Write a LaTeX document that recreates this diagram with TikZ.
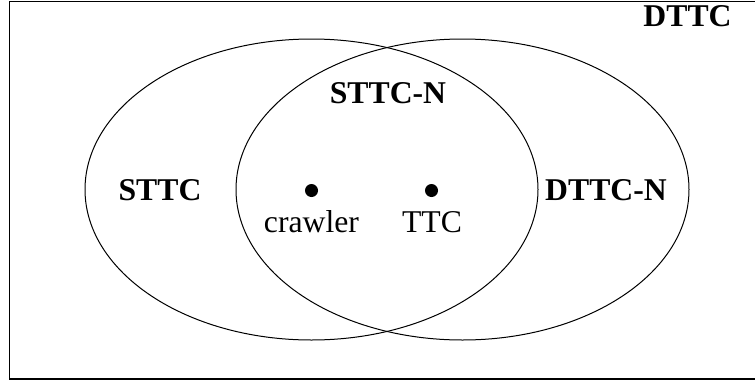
\documentclass[tikz,border=0pt]{standalone}
\usepackage{fontspec}
\setmainfont{Liberation Serif}
\usetikzlibrary{shapes.geometric}
\begin{document}
\begin{tikzpicture}[x=1pt,y=-1pt,
  setring/.style={draw=black,line width=1pt,ellipse,minimum width=453pt,minimum height=301pt,inner sep=0pt},
  frameline/.style={draw=black,line width=1.4pt},
  setlabel/.style={anchor=base,inner sep=0pt,font=\fontsize{31.7}{36}\selectfont\bfseries},
  itemlabel/.style={anchor=base,inner sep=0pt,font=\fontsize{31.7}{36}\selectfont},
  member/.style={circle,fill=black,inner sep=0pt,minimum size=13pt}]
  \useasboundingbox (0,0) rectangle (755,381);
  % universe frame (open on the right)
  \coordinate (ftr) at (755,1.5);
  \coordinate (ftl) at (9.5,1.5);
  \coordinate (fbl) at (9.5,379);
  \coordinate (fbr) at (755,379);
  \draw[frameline] (ftr) -- (ftl) -- (fbl) -- (fbr);
  % the two overlapping sets
  \node[setring] (leftset) at (311.5,189.5) {};
  \node[setring] (rightset) at (462.5,189.5) {};
  % labels
  \node[setlabel] (dttc) at (687.5,26) {DTTC};
  \node[setlabel] (sttcn) at (388,103) {STTC-N};
  \node[setlabel] (sttc) at (160,200) {STTC};
  \node[setlabel] (dttcn) at (606,200) {DTTC-N};
  % members
  \node[member] (d1) at (311.5,190.5) {};
  \node[member] (d2) at (431.5,190.5) {};
  \node[itemlabel] (crawler) at (311.5,232) {crawler};
  \node[itemlabel] (ttc) at (432,232) {TTC};
\end{tikzpicture}
\end{document}
